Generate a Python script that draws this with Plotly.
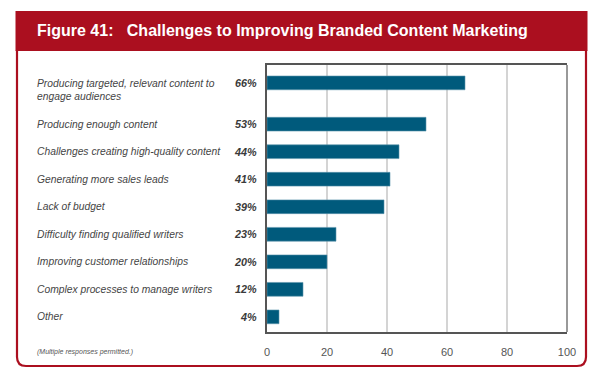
import plotly.graph_objects as go

categories = [
    "Producing targeted, relevant content to<br>engage audiences",
    "Producing enough content",
    "Challenges creating high-quality content",
    "Generating more sales leads",
    "Lack of budget",
    "Difficulty finding qualified writers",
    "Improving customer relationships",
    "Complex processes to manage writers",
    "Other",
]
values = [66, 53, 44, 41, 39, 23, 20, 12, 4]
x_ticks = [0, 20, 40, 60, 80, 100]
title_text = "Figure 41:   Challenges to Improving Branded Content Marketing"
footnote = "(Multiple responses permitted.)"

W, H = 600, 378
L, R, T, B = 267, 33, 65, 46
PW, PH = W - L - R, H - T - B

def px(x):
    return (x - L) / PW

def py(y):
    return (H - B - y) / PH

# first row is separated by an extra half slot
pos = [0.0] + [i + 0.5 for i in range(1, len(values))]

RED = "#ab0f1f"
BAR = "#005a7c"
FONT = "Liberation Sans, Arial, sans-serif"

fig = go.Figure()
fig.add_trace(go.Bar(
    x=values, y=pos, orientation="h", width=0.5,
    marker=dict(color=BAR, line=dict(color="#5d95ad", width=0.6)),
    hoverinfo="skip",
))

annotations = []
for c, v, p in zip(categories, values, pos):
    nlines = c.count("<br>") + 1
    annotations.append(dict(
        x=px(35), y=p, xref="paper", yref="y", text=c, showarrow=False,
        xanchor="left", yanchor="middle", align="left",
        yshift=-(nlines - 1) * 7.5,
        font=dict(family=FONT, size=10.3, color="#454545", style="italic"),
    ))
    annotations.append(dict(
        x=px(259), y=p, xref="paper", yref="y", text=f"<b>{v}%</b>", showarrow=False,
        xanchor="right", yanchor="middle",
        font=dict(family=FONT, size=10.8, color="#3a3a3a", style="italic"),
    ))
annotations.append(dict(
    x=px(35), y=py(31), xref="paper", yref="paper", text=f"<b>{title_text}</b>",
    showarrow=False, xanchor="left", yanchor="middle",
    font=dict(family=FONT, size=16, color="white"),
))
annotations.append(dict(
    x=px(35), y=py(352), xref="paper", yref="paper", text=footnote,
    showarrow=False, xanchor="left", yanchor="middle",
    font=dict(family=FONT, size=7, color="#555555", style="italic"),
))

# border box with rounded bottom corners
x0, x1, y0, y1, r = px(17), px(586), py(50), py(366), 9
rx, ry = r / PW, r / PH
border = (f"M {x0},{y0} L {x0},{y1 + ry} Q {x0},{y1} {x0 + rx},{y1} "
          f"L {x1 - rx},{y1} Q {x1},{y1} {x1},{y1 + ry} L {x1},{y0}")

shapes = [
    dict(type="path", xref="paper", yref="paper", path=border,
         line=dict(color=RED, width=2.2), layer="below"),
    dict(type="rect", xref="paper", yref="paper", x0=px(15.5), x1=px(587.5),
         y0=py(11), y1=py(51), fillcolor=RED, line=dict(width=0), layer="below"),
    dict(type="line", xref="paper", yref="paper", x0=1, x1=1, y0=0, y1=1,
         line=dict(color="#999999", width=2)),
]

fig.update_layout(
    width=W, height=H,
    margin=dict(l=L, r=R, t=T, b=B),
    paper_bgcolor="white", plot_bgcolor="white",
    showlegend=False,
    annotations=annotations, shapes=shapes,
    xaxis=dict(range=[0, 100], tickvals=x_ticks, showgrid=True,
               gridcolor="#d4d4d4", gridwidth=1.5, zeroline=False,
               showline=True, linecolor="#555555", linewidth=1.5, mirror=True,
               ticks="", ticklabelstandoff=9,
               tickfont=dict(family=FONT, size=11, color="#555555")),
    yaxis=dict(range=[9.05, -0.65], showticklabels=False, showgrid=False,
               zeroline=False, showline=True, linecolor="#555555", linewidth=1.5),
)

fig.write_html("out.html", config={"displayModeBar": False},
               post_script="document.body.style.margin='0';")
